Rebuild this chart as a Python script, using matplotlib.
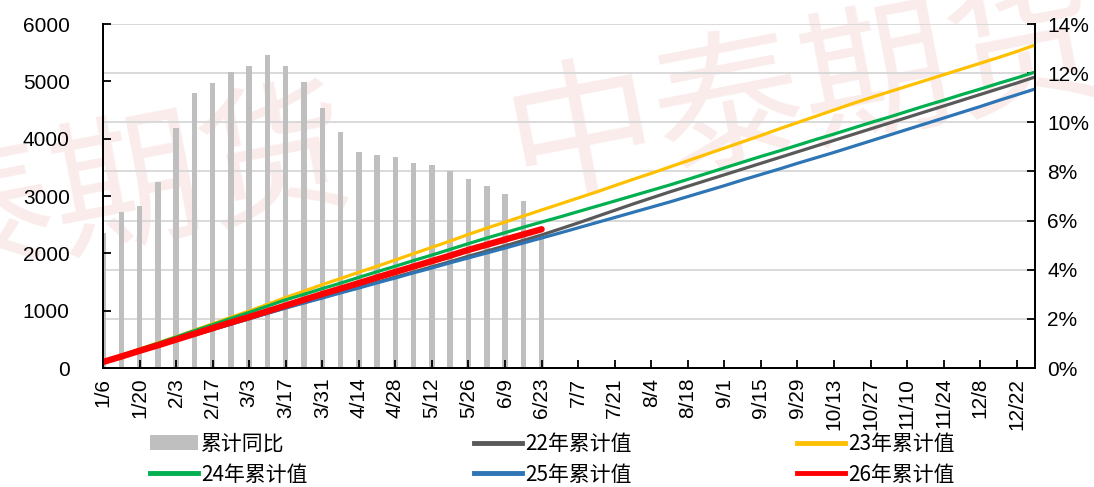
import matplotlib
matplotlib.use("Agg")
import matplotlib.pyplot as plt
from matplotlib.lines import Line2D
from matplotlib.patches import Patch
import numpy as np

# weekly dates shown on the x axis (every other week is labelled)
weeks = ["1/6", "1/13", "1/20", "1/27", "2/3", "2/10", "2/17", "2/24", "3/3", "3/10",
         "3/17", "3/24", "3/31", "4/7", "4/14", "4/21", "4/28", "5/5", "5/12", "5/19",
         "5/26", "6/2", "6/9", "6/16", "6/23", "6/30", "7/7", "7/14", "7/21", "7/28",
         "8/4", "8/11", "8/18", "8/25", "9/1", "9/8", "9/15", "9/22", "9/29", "10/6",
         "10/13", "10/20", "10/27", "11/3", "11/10", "11/17", "11/24", "12/1", "12/8",
         "12/15", "12/22", "12/29"]

# cumulative values by year
cum_22 = [110, 205, 300, 395, 490, 580, 675, 765, 860, 955, 1050, 1140, 1230, 1320, 1405,
          1495, 1585, 1675, 1765, 1855, 1950, 2040, 2130, 2225, 2320, 2425, 2530, 2640, 2750,
          2860, 2965, 3070, 3170, 3270, 3370, 3470, 3570, 3670, 3770, 3870, 3970, 4070, 4170,
          4270, 4370, 4470, 4570, 4670, 4770, 4870, 4970, 5075]
cum_23 = [110, 215, 330, 440, 545, 660, 770, 885, 995, 1110, 1230, 1340, 1455, 1560, 1670,
          1775, 1885, 1995, 2105, 2215, 2330, 2440, 2545, 2650, 2756, 2860, 2965, 3070, 3180,
          3290, 3395, 3505, 3615, 3725, 3835, 3945, 4055, 4170, 4280, 4390, 4500, 4610, 4715,
          4815, 4915, 5015, 5115, 5215, 5315, 5415, 5520, 5633]
cum_24 = [110, 215, 325, 430, 540, 650, 755, 865, 970, 1080, 1190, 1285, 1385, 1480, 1580,
          1680, 1775, 1875, 1970, 2070, 2170, 2267, 2360, 2455, 2546, 2635, 2728, 2820, 2912,
          3005, 3098, 3191, 3290, 3390, 3490, 3590, 3690, 3785, 3885, 3985, 4080, 4180, 4280,
          4375, 4475, 4575, 4670, 4770, 4865, 4965, 5060, 5162]
cum_25 = [110, 200, 295, 390, 480, 575, 670, 765, 860, 955, 1046, 1135, 1220, 1310, 1395,
          1485, 1570, 1660, 1745, 1835, 1920, 2006, 2092, 2180, 2267, 2355, 2445, 2535, 2625,
          2715, 2805, 2895, 2990, 3085, 3180, 3280, 3375, 3470, 3570, 3665, 3760, 3860, 3960,
          4060, 4160, 4260, 4360, 4460, 4560, 4665, 4765, 4866]
cum_26 = [105, 200, 300, 395, 495, 595, 695, 795, 890, 990, 1090, 1190, 1290, 1385, 1480,
          1580, 1675, 1770, 1865, 1960, 2060, 2150, 2240, 2330, 2420]

# cumulative year-on-year change (%)
yoy = [5.5, 6.35, 6.6, 7.55, 9.75, 11.2, 11.6, 12.05, 12.3, 12.75, 12.3, 11.65, 10.6, 9.6,
       8.8, 8.65, 8.6, 8.35, 8.25, 8.0, 7.7, 7.4, 7.1, 6.8, 5.3]

series_labels = ["22年累计值", "23年累计值", "24年累计值", "25年累计值", "26年累计值"]
bar_label = "累计同比"

CJK = ["Noto Sans CJK SC", "DejaVu Sans"]
plt.rcParams["font.family"] = ["Liberation Sans", "Noto Sans CJK SC", "DejaVu Sans"]

fig = plt.figure(figsize=(10.94, 4.87), dpi=100)
fig.patch.set_facecolor("white")

# faint company watermark behind the plot
wm_color = (0.985, 0.925, 0.925)
fig.text(0.05, 1 - 205 / 487, "中泰期货", fontsize=108, family=CJK,
         color=wm_color, rotation=11, ha="center", va="center", zorder=-5)
fig.text(0.735, 1 - 95 / 487, "中泰期货", fontsize=108, family=CJK,
         color=wm_color, rotation=11, ha="center", va="center", zorder=-5)

rect = [103 / 1094, 1 - 368 / 487, (1035 - 103) / 1094, (368 - 24) / 487]
ax = fig.add_axes(rect)
ax2 = ax.twinx()
ax.set_zorder(ax2.get_zorder() + 1)
ax.patch.set_visible(False)
ax2.patch.set_visible(False)

x = np.arange(len(weeks))

# bars on the right (percentage) axis
ax2.bar(x[:len(yoy)], yoy, width=0.3, color="#BFBFBF", zorder=2)
ax2.set_ylim(0, 14)
ax2.set_yticks(np.arange(0, 15, 2))
ax2.set_yticklabels([f"{v}%" for v in range(0, 15, 2)],
                    family=["Liberation Sans Narrow", "Liberation Sans"], fontsize=15)
ax2.grid(axis="y", color="#D9D9D9", linewidth=1.4, zorder=0)
ax2.set_axisbelow(True)

# cumulative lines on the left axis
colors = ["#595959", "#FFC000", "#00B050", "#2E75B6", "#FF0000"]
for vals, c in zip([cum_22, cum_23, cum_24, cum_25], colors[:4]):
    ax.plot(x[:len(vals)], vals, color=c, lw=2.3, solid_capstyle="round")
ax.plot(x[:len(cum_26)], cum_26, color=colors[4], lw=4.6, solid_capstyle="round")

ax.set_xlim(0, len(weeks) - 1)
ax.set_ylim(0, 6000)
ax.set_yticks(np.arange(0, 6001, 1000))
ax.set_xticks(x[::2])
ax.set_xticklabels(weeks[::2], rotation=90, fontsize=15)
ax.tick_params(axis="y", labelsize=15, direction="in", length=6, width=1.3, pad=24)
ax.tick_params(axis="x", direction="in", length=6, width=1.3, pad=7)
ax2.tick_params(axis="y", direction="in", length=6, width=1.3, pad=9)

for a in (ax, ax2):
    a.spines["top"].set_visible(False)
    for s in ("left", "right", "bottom"):
        a.spines[s].set_color("black")
        a.spines[s].set_linewidth(1.3)

# legend laid out in three columns under the chart
h_bar = Patch(facecolor="#BFBFBF", edgecolor="none")
h = [Line2D([], [], color=c, lw=3.5) for c in colors]
cols = [([h_bar, h[2]], [bar_label, series_labels[2]], 150),
        ([h[0], h[3]], [series_labels[0], series_labels[3]], 474),
        ([h[1], h[4]], [series_labels[1], series_labels[4]], 797)]
for handles, labels, px in cols:
    fig.legend(handles, labels, loc="upper left", bbox_to_anchor=(px / 1094, 1 - 433 / 487),
               frameon=False, ncol=1, prop={"family": CJK, "size": 15},
               handlelength=2.3, handletextpad=0.15, labelspacing=0.42, borderaxespad=0,
               borderpad=0)

fig.savefig("out.png", dpi=100, facecolor="white")
